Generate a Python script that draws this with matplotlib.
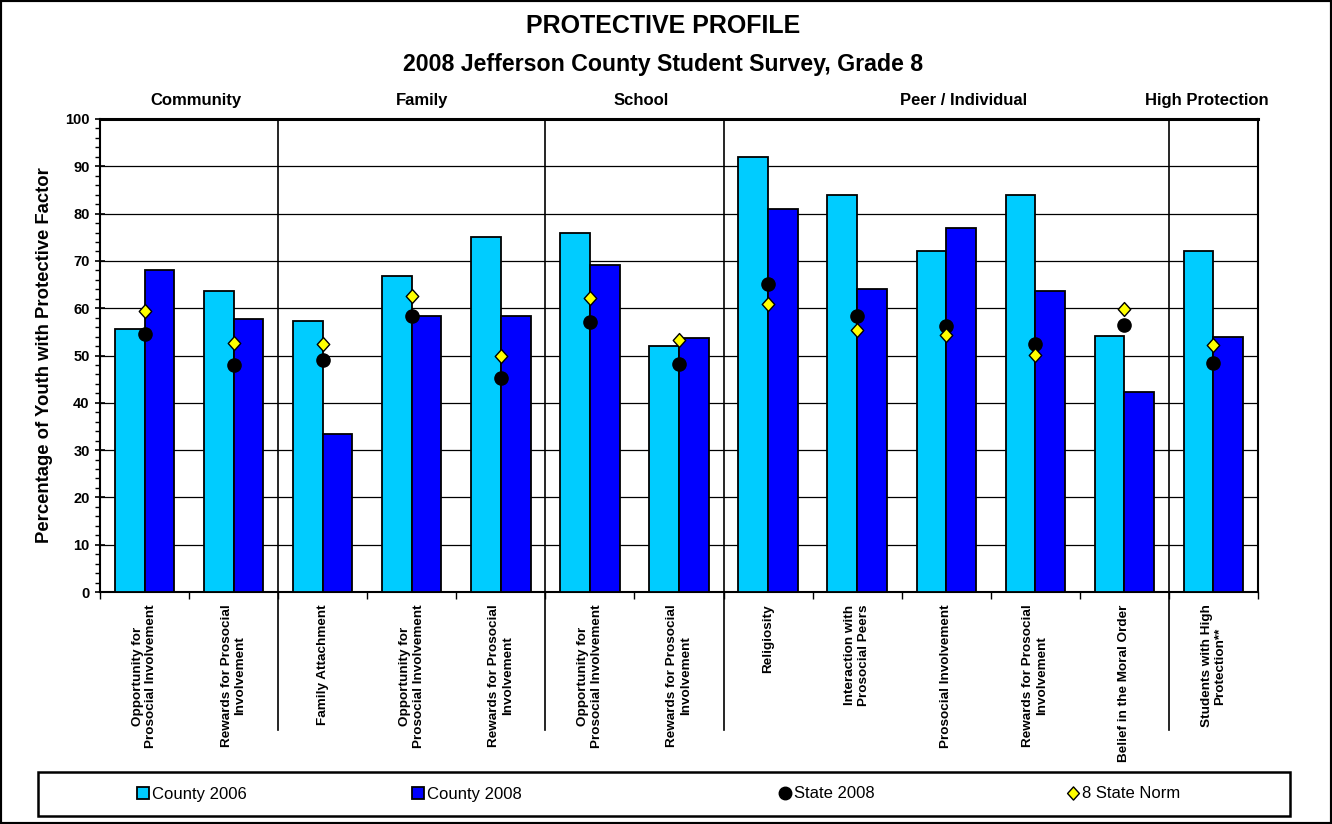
import matplotlib.pyplot as plt
import numpy as np
from matplotlib.lines import Line2D
from matplotlib.patches import Patch, Rectangle
from matplotlib.path import Path

plt.rcParams['font.family'] = ['Liberation Sans', 'DejaVu Sans']

# Risk-factor categories (bottom axis)
categories = [
    "Opportunity for\nProsocial Involvement",
    "Rewards for Prosocial\nInvolvement",
    "Family Attachment",
    "Opportunity for\nProsocial Involvement",
    "Rewards for Prosocial\nInvolvement",
    "Opportunity for\nProsocial Involvement",
    "Rewards for Prosocial\nInvolvement",
    "Religiosity",
    "Interaction with\nProsocial Peers",
    "Prosocial Involvement",
    "Rewards for Prosocial\nInvolvement",
    "Belief in the Moral Order",
    "Students with High\nProtection**",
]
groups = ["Community", "Family", "School", "Peer / Individual", "High Protection"]
group_sizes = [2, 3, 2, 5, 1]

county_2006 = [55.6, 63.6, 57.2, 66.8, 75.0, 76.0, 52.0, 92.0, 84.0, 72.0, 84.0, 54.2, 72.0]
county_2008 = [68.0, 57.7, 33.3, 58.3, 58.3, 69.2, 53.8, 80.9, 64.0, 76.9, 63.6, 42.3, 53.9]
state_2008 = [54.5, 47.9, 49.0, 58.4, 45.3, 57.0, 48.1, 65.1, 58.4, 56.2, 52.4, 56.4, 48.5]
state_norm = [59.4, 52.6, 52.5, 62.5, 49.9, 62.2, 53.3, 60.8, 55.4, 54.3, 50.1, 59.8, 52.2]

c06 = "#00CCFF"
c08 = "#0000FF"
diamond = Path([(0, 1), (0.9, 0), (0, -1), (-0.9, 0), (0, 1)],
               [Path.MOVETO, Path.LINETO, Path.LINETO, Path.LINETO, Path.CLOSEPOLY])

W, H = 1332, 824
fig = plt.figure(figsize=(W / 100, H / 100), dpi=100)
ax = fig.add_axes([100 / W, 1 - 592 / H, 1158 / W, 473 / H])

x = np.arange(len(categories))
bw = 1 / 3
ax.bar(x - bw / 2, county_2006, bw, color=c06, edgecolor="black", linewidth=1.3, zorder=3)
ax.bar(x + bw / 2, county_2008, bw, color=c08, edgecolor="black", linewidth=1.3, zorder=3)
ax.plot(x, state_2008, "o", color="black", markersize=9.5, linestyle="none", zorder=5)
ax.plot(x, state_norm, marker=diamond, color="#FFFF00", markeredgecolor="black",
        markeredgewidth=1.0, markersize=10, linestyle="none", zorder=6)

ax.set_xlim(-0.5, len(categories) - 0.5)
ax.set_ylim(0, 100)
ax.set_yticks(np.arange(0, 101, 10))
ax.set_yticks(np.arange(0, 101, 2), minor=True)
ax.yaxis.grid(True, color="black", linewidth=0.9, zorder=0)
ax.set_axisbelow(True)
ax.tick_params(axis="y", which="major", direction="inout", length=7, width=1.2,
               labelsize=10.5, pad=4)
ax.tick_params(axis="y", which="minor", direction="out", length=3.5, width=1.0)
for lbl in ax.get_yticklabels():
    lbl.set_fontweight("bold")

ax.set_xticks(x)
ax.set_xticklabels(categories, rotation=90, fontsize=9.7, fontweight="bold",
                   va="top", ha="center", multialignment="center")
ax.set_xticks(np.arange(-0.5, len(categories), 1.0), minor=True)
ax.tick_params(axis="x", which="major", length=0, pad=9)
ax.tick_params(axis="x", which="minor", direction="out", length=5, width=1.0)

for s in ax.spines.values():
    s.set_linewidth(1.5)
ax.spines["top"].set_linewidth(2.2)

ax.set_ylabel("Percentage of Youth with Protective Factor", fontsize=13.3,
              fontweight="bold", labelpad=9)

# group dividers and group names
edges = np.cumsum(group_sizes)[:-1] - 0.5
for e in edges:
    ax.axvline(e, ymin=-0.292, ymax=1, color="black", linewidth=1.2, clip_on=False, zorder=4)
group_x = [0.58, 3.12, 5.57, 9.20, 11.92]
for name, gx in zip(groups, group_x):
    ax.text(gx, 1.04, name, transform=ax.get_xaxis_transform(), ha="center",
            va="center", fontsize=12, fontweight="bold")

fig.text(0.498, 1 - 26 / H, "PROTECTIVE PROFILE", ha="center", va="center",
         fontsize=18, fontweight="bold")
fig.text(0.498, 1 - 65 / H, "2008 Jefferson County Student Survey, Grade 8", ha="center",
         va="center", fontsize=16.7, fontweight="bold")

# legend
fig.patches.append(Rectangle((38 / W, 1 - 816 / H), 1252 / W, 44 / H, transform=fig.transFigure,
                             fill=False, edgecolor="black", linewidth=1.8))
handles = [
    (Patch(facecolor=c06, edgecolor="black", linewidth=1.3), "County 2006", 137),
    (Patch(facecolor=c08, edgecolor="black", linewidth=1.3), "County 2008", 412),
    (Line2D([], [], marker="o", color="black", markersize=9, linestyle="none"), "State 2008", 779),
    (Line2D([], [], marker=diamond, color="#FFFF00", markeredgecolor="black",
            markersize=9.5, linestyle="none"), "8 State Norm", 1067),
]
for h, lab, px in handles:
    fig.legend(handles=[h], labels=[lab], loc="center left",
               bbox_to_anchor=(px / W, 1 - 794 / H), frameon=False, fontsize=12,
               handlelength=0.7, handleheight=0.7, handletextpad=0.2,
               borderpad=0, borderaxespad=0)

fig.patches.append(Rectangle((0, 0), 1, 1, transform=fig.transFigure, fill=False,
                             edgecolor="black", linewidth=3))

fig.savefig("out.png", dpi=100)
